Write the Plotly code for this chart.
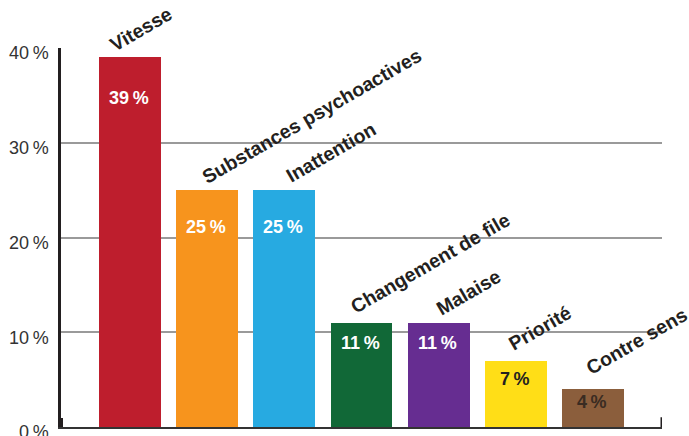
import plotly.graph_objects as go

categories = ["Vitesse", "Substances psychoactives", "Inattention", "Changement de file",
              "Malaise", "Priorité", "Contre sens"]
values = [39, 25, 25, 11, 11, 7, 4]
tick_values = [0, 10, 20, 30, 40]
tick_labels = ["0\u2009%", "10\u2009%", "20\u2009%", "30\u2009%", "40\u2009%"]

# styles
bar_colors = ["#be1e2d", "#f7941d", "#27aae1", "#116837", "#662d91", "#ffde17", "#8b5e3c"]
value_text_colors = ["white", "white", "white", "white", "white", "#231f20", "#3a2c22"]
value_offsets = [41, 37, 37, 20, 20, 18, 13]          # px below bar top
cat_xshift = [4, 19, 26, 13, 22, 17, 17]              # px
cat_yshift = [-1, 0, 1, 3, 1, 3, 8]                   # px
BAR_W = 0.8
FONT = "Liberation Sans, Arial, sans-serif"
DARK = "#231f20"

xs = list(range(len(categories)))

fig = go.Figure()
fig.add_trace(go.Bar(
    x=xs, y=values, width=BAR_W,
    marker=dict(color=bar_colors, line=dict(width=0)),
    hoverinfo="skip", showlegend=False,
))

annotations = []
for i, (c, v) in enumerate(zip(categories, values)):
    annotations.append(dict(
        x=i - BAR_W / 2, y=v, xref="x", yref="y", text=c, showarrow=False,
        textangle=-30, xanchor="left", yanchor="bottom",
        xshift=cat_xshift[i], yshift=cat_yshift[i],
        font=dict(family=FONT, size=19.5, color=DARK, weight="bold"),
    ))
    annotations.append(dict(
        x=i, y=v, xref="x", yref="y", text=f"{v}\u2009%", showarrow=False,
        xanchor="center", yanchor="middle", yshift=-value_offsets[i], xshift=-1,
        font=dict(family=FONT, size=18, color=value_text_colors[i], weight="bold"),
    ))

x_lo, x_hi = -0.894, len(categories) - 1 + 0.894

shapes = [
    dict(type="line", xref="x", yref="paper", x0=x_lo, x1=x_lo, y0=0, y1=0.024,
         line=dict(color=DARK, width=4)),
    dict(type="line", xref="x", yref="paper", x0=x_hi, x1=x_hi, y0=0, y1=0.026,
         line=dict(color=DARK, width=3)),
]

fig.update_layout(
    width=689, height=436,
    margin=dict(l=61, r=27, t=48, b=9, autoexpand=False),
    paper_bgcolor="white", plot_bgcolor="white",
    bargap=0,
    annotations=annotations,
    shapes=shapes,
    xaxis=dict(range=[x_lo, x_hi], showticklabels=False, showgrid=False, zeroline=False,
               showline=True, linecolor="#333333", linewidth=2, ticks="", automargin=False),
    yaxis=dict(range=[0, 40], tickvals=tick_values, ticktext=tick_labels,
               showgrid=True, gridcolor="#9a9a9a", gridwidth=1.5, zeroline=False,
               showline=True, linecolor=DARK, linewidth=2.5, ticks="",
               ticklabelstandoff=6, ticklabelshift=5, ticklabeloverflow="allow",
               automargin=False,
               tickfont=dict(family=FONT, size=18, color="#333333")),
)

fig.write_html("out.html", config={"displayModeBar": False},
               post_script="document.body.style.margin='0';document.body.style.overflow='hidden';")
